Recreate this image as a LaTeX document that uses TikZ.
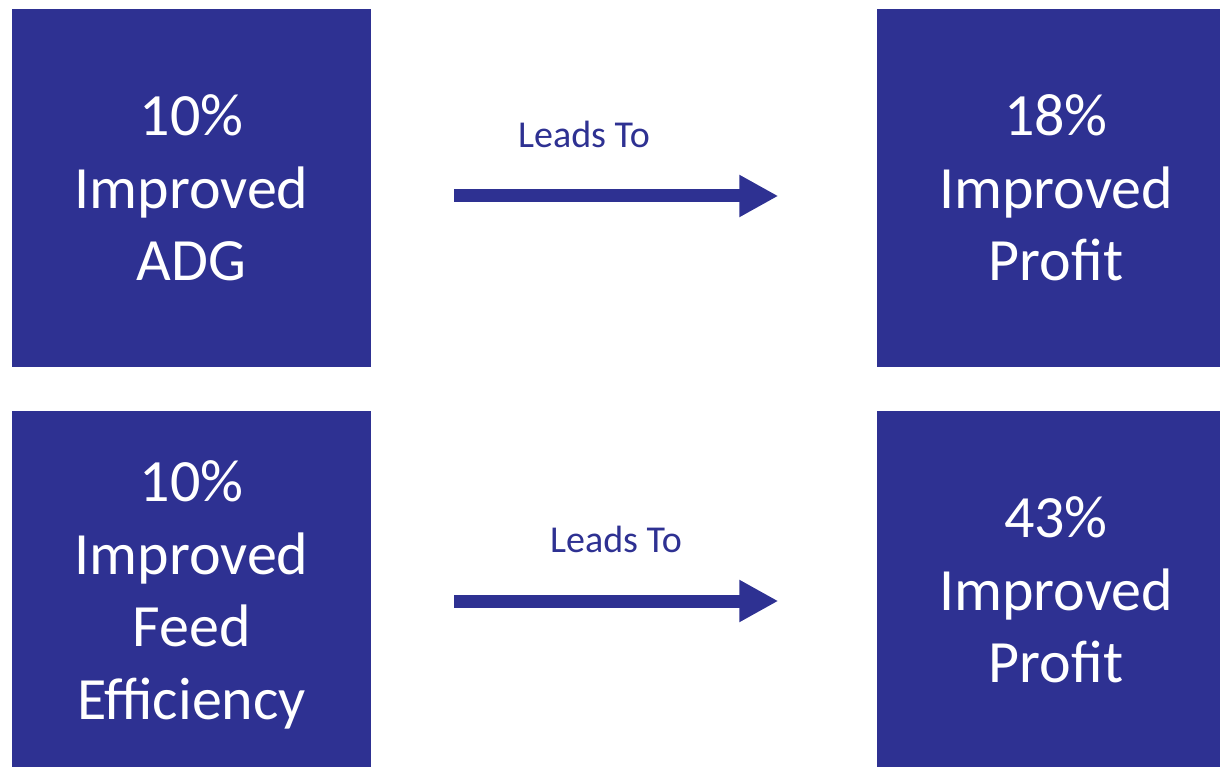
\documentclass[tikz,border=0pt]{standalone}
\usepackage{fontspec}
\setmainfont{Carlito}
\usepackage{tikz}
\usetikzlibrary{arrows.meta}
\usetikzlibrary{positioning}
\definecolor{boxblue}{HTML}{2E3192}
\tikzset{
  >=latex,
  lead arrow/.style={-{Triangle[length=39pt,width=39.5pt]},line width=13pt,boxblue,shorten <=83pt,shorten >=98pt}
}

\begin{document}
\begin{tikzpicture}[
    x=1pt, y=1pt,
    res-box/.style={fill=boxblue, text=white, minimum width=359pt, minimum height=358pt, inner sep=0pt,
      align=center, text depth=0pt, font=\fontsize{60}{72.5}\selectfont},
    lead-txt/.style={anchor=base, text=boxblue, inner sep=0pt, font=\fontsize{38}{44}\selectfont}
  ]

  \useasboundingbox (0,0) rectangle (1220,766);

  \node[res-box] (adg) at (191.5,578) {10\%\\Improved\\ADG};
  \node[res-box] (profitA) at (1056,578) {18\%\\Improved\\Profit};

  \node[res-box] (feed) at (191.5,176) {10\%\\Improved\\Feed\\Efficiency};
  \node[res-box] (profitB) at (1056,176) {43\%\\Improved\\Profit};

  \node[lead-txt] (leadA) at (584,618) {Leads To};
  \node[lead-txt] (leadB) at (616,213.3) {Leads To};

  \draw[lead arrow] ([yshift=-8pt]adg.east) -- ([yshift=-8pt]profitA.west);
  \draw[lead arrow] ([yshift=-11pt]feed.east) -- ([yshift=-11pt]profitB.west);

\end{tikzpicture}
\end{document}
